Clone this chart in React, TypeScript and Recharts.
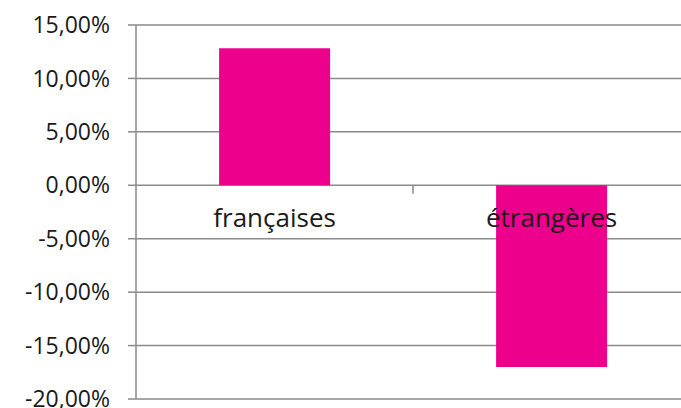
import React from 'react';
import { BarChart, Bar, XAxis, YAxis, CartesianGrid, ReferenceLine, LabelList } from 'recharts';

const categories = ['françaises', 'étrangères'];
const values = [12.82, -17.0];
const yTicks = [-20, -15, -10, -5, 0, 5, 10, 15];

const data = categories.map((name, i) => ({ name, value: values[i] }));

const PINK = '#EC008C';
const AXIS = '#8a8a8a';
const TEXT = '#1a1a1a';
const FONT = '"Open Sans", sans-serif';

const fmt = (v: number) => `${v.toFixed(2).replace('.', ',')}%`;

// category names sit just under the zero line, drawn over the bars
const CategoryLabel = (props: any) => {
  const vb = props.viewBox || props;
  const { x, y, width, height } = vb;
  const v = values[categories.indexOf(props.value)];
  const base = v >= 0 ? Math.max(y, y + height) : Math.min(y, y + height);
  return (
    <text
      x={x + width / 2}
      y={base + 42}
      textAnchor="middle"
      fill={TEXT}
      fontFamily={FONT}
      fontSize={26}
    >
      {props.value}
    </text>
  );
};

export default function App() {
  return (
    <div
      style={{
        position: 'fixed',
        left: 0,
        top: 0,
        width: 681,
        height: 408,
        overflow: 'hidden',
        background: '#fff',
      }}
    >
      <BarChart
        width={690}
        height={408}
        data={data}
        margin={{ top: 25, right: 0, bottom: 9, left: 0 }}
        barCategoryGap="30%"
      >
        <CartesianGrid vertical={false} stroke={AXIS} strokeWidth={1.5} />
        <XAxis dataKey="name" hide />
        <YAxis
          width={136}
          domain={[-20, 15]}
          ticks={yTicks}
          interval={0}
          tickFormatter={fmt}
          axisLine={{ stroke: AXIS, strokeWidth: 1.5 }}
          tickLine={{ stroke: AXIS, strokeWidth: 1.5 }}
          tickSize={8}
          tickMargin={18}
          tick={{ fill: TEXT, fontFamily: FONT, fontSize: 23 }}
        />
        <Bar dataKey="value" fill={PINK} isAnimationActive={false}>
          <LabelList dataKey="name" content={CategoryLabel} />
        </Bar>
        <ReferenceLine
          segment={[
            { x: categories[1], y: 0 },
            { x: categories[1], y: -0.8 },
          ]}
          position="start"
          stroke={AXIS}
          strokeWidth={1.5}
        />
      </BarChart>
    </div>
  );
}
